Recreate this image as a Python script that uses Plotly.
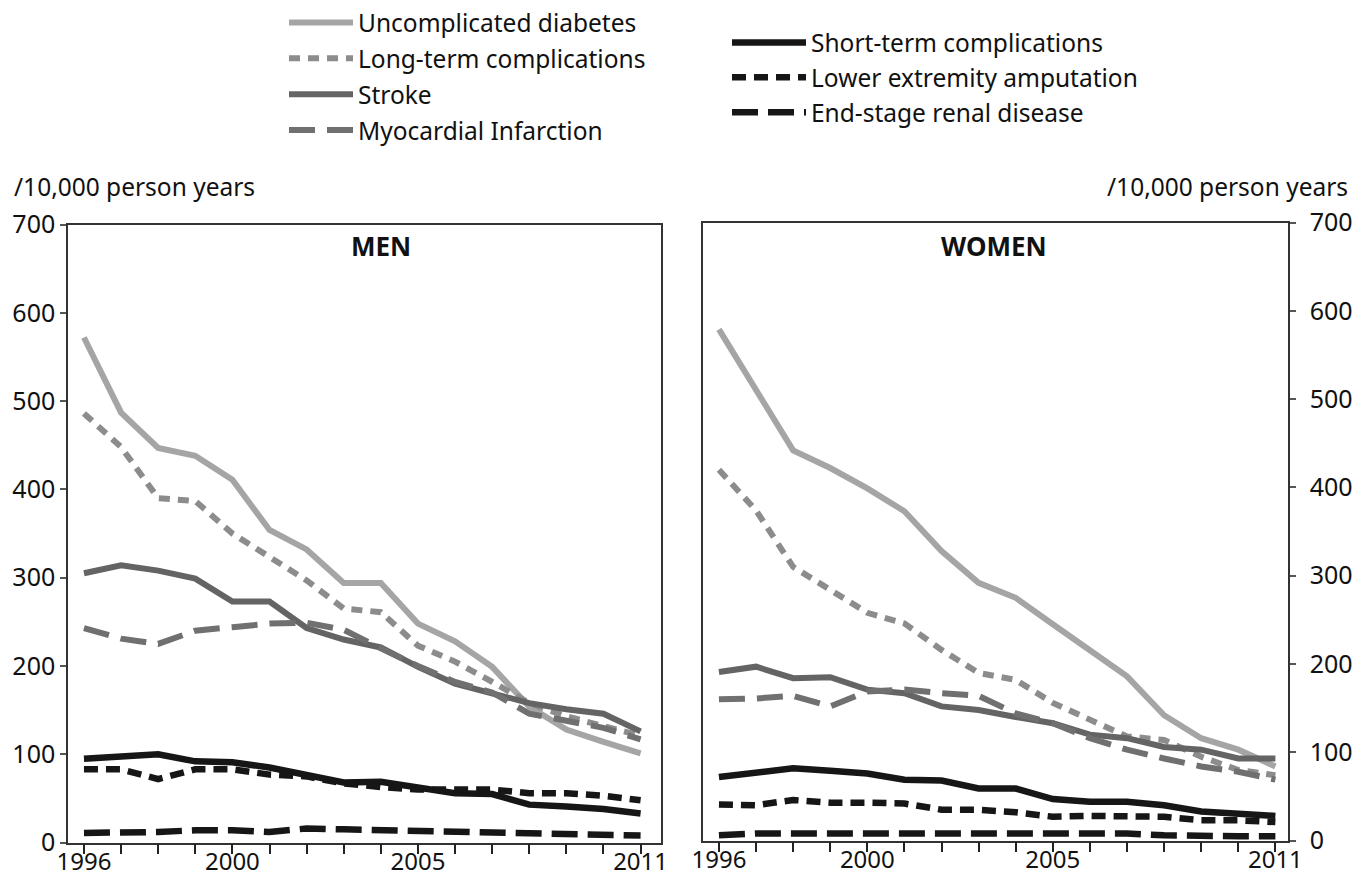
import plotly.graph_objects as go

# ---------------- data ----------------
years = list(range(1996, 2012))
x_tick_labels = ["1996", "", "", "", "2000", "", "", "", "", "2005", "", "", "", "", "", "2011"]
y_tick_values = [0, 100, 200, 300, 400, 500, 600, 700]

series_names = [
    "Uncomplicated diabetes",
    "Long-term complications",
    "Stroke",
    "Myocardial Infarction",
    "Short-term complications",
    "Lower extremity amputation",
    "End-stage renal disease",
]

men_uncomplicated = [572, 487, 447, 438, 411, 354, 332, 294, 294, 248, 228, 199, 154, 128, 114, 101]
men_longterm      = [486, 448, 390, 387, 350, 324, 297, 265, 261, 223, 205, 182, 158, 143, 132, 121]
men_stroke        = [305, 314, 308, 299, 273, 273, 243, 230, 221, 199, 180, 169, 158, 151, 146, 126]
men_mi            = [243, 231, 225, 240, 244, 248, 249, 241, 220, 200, 182, 170, 146, 138, 130, 117]
men_shortterm     = [95, 97, 100, 92, 91, 85, 77, 68, 69, 63, 56, 55, 43, 41, 38, 33]
men_amputation    = [83, 83, 72, 83, 83, 77, 75, 67, 63, 60, 60, 60, 56, 56, 53, 48]
men_esrd          = [11, 11, 12, 14, 14, 12, 16, 15, 14, 14, 12, 12, 10, 9, 8, 8]

women_uncomplicated = [579, 511, 442, 422, 399, 373, 328, 292, 275, 245, 216, 186, 142, 116, 103, 84]
women_longterm      = [420, 374, 310, 283, 258, 246, 216, 190, 182, 156, 137, 118, 114, 95, 80, 74]
women_stroke        = [191, 197, 184, 185, 171, 167, 152, 148, 140, 133, 120, 116, 106, 103, 93, 93]
women_mi            = [160, 161, 164, 152, 169, 171, 167, 164, 144, 133, 116, 103, 93, 84, 78, 69]
women_shortterm     = [72, 77, 82, 79, 76, 69, 68, 59, 59, 47, 44, 44, 40, 33, 31, 28]
women_amputation    = [41, 40, 46, 43, 43, 42, 35, 35, 32, 27, 28, 28, 27, 23, 23, 21]
women_esrd          = [6, 8, 8, 8, 8, 8, 8, 8, 8, 8, 8, 8, 6, 5, 5, 5]

men_series = [men_uncomplicated, men_longterm, men_stroke, men_mi,
              men_shortterm, men_amputation, men_esrd]
women_series = [women_uncomplicated, women_longterm, women_stroke, women_mi,
                women_shortterm, women_amputation, women_esrd]

# ---------------- styles ----------------
styles = [
    dict(color="#a5a5a5", width=6, dash="solid"),
    dict(color="#8c8c8c", width=6, dash="11px,8px"),
    dict(color="#646464", width=6, dash="solid"),
    dict(color="#707070", width=6, dash="26px,12px"),
    dict(color="#161616", width=6.5, dash="solid"),
    dict(color="#161616", width=6.5, dash="14px,8px"),
    dict(color="#161616", width=6.5, dash="26px,10px"),
]
legend_ids = ["legend", "legend", "legend", "legend", "legend2", "legend2", "legend2"]

W, H = 1355, 879


def px(x):
    return x / W


def py(y):
    return 1 - y / H


FONT = "Noto Sans"
fig = go.Figure()

for i, name in enumerate(series_names):
    fig.add_trace(go.Scatter(
        x=years, y=men_series[i], name=name, mode="lines",
        line=styles[i], xaxis="x", yaxis="y",
        legend=legend_ids[i], legendgroup="g%d" % i,
        showlegend=True, hoverinfo="skip",
    ))
for i, name in enumerate(series_names):
    fig.add_trace(go.Scatter(
        x=years, y=women_series[i], name=name, mode="lines",
        line=styles[i], xaxis="x2", yaxis="y2", legendgroup="g%d" % i,
        showlegend=False, hoverinfo="skip",
    ))

axis_line = dict(showline=True, linecolor="#333", linewidth=1.5, showgrid=False,
                 zeroline=False, automargin=False)

xcommon = dict(
    tickmode="array", tickvals=years, ticktext=x_tick_labels,
    ticks="outside", ticklen=10, tickwidth=1.5, tickcolor="#222",
    tickfont=dict(family=FONT, size=24, color="#111"), ticklabelstandoff=-13,
    mirror=True, **axis_line,
)
ycommon = dict(
    tickmode="array", tickvals=y_tick_values, ticktext=[str(v) for v in y_tick_values],
    ticks="outside", ticklen=6, tickwidth=1.5, tickcolor="#555",
    tickfont=dict(family=FONT, size=25, color="#111"),
    mirror=True, range=[0, 700], **axis_line,
)
yinner = dict(
    tickmode="array", tickvals=y_tick_values, showticklabels=False,
    ticks="inside", ticklen=6, tickwidth=1.5, tickcolor="#555",
    showline=False, showgrid=False, zeroline=False, range=[0, 700], automargin=False,
)

legend_font = dict(family=FONT, size=24.5, color="#111")

fig.update_layout(
    width=W, height=H,
    margin=dict(l=0, r=0, t=0, b=0, pad=0, autoexpand=False),
    paper_bgcolor="white", plot_bgcolor="white",
    font=dict(family=FONT, color="#111"),
    xaxis=dict(domain=[px(68), px(661)], range=[1995.57, 2011.55], anchor="y", **xcommon),
    yaxis=dict(domain=[py(842.6), py(224.5)], anchor="x", side="left", **ycommon),
    xaxis2=dict(domain=[px(703), px(1288)], range=[1995.57, 2011.34], anchor="y2", **xcommon),
    yaxis2=dict(domain=[py(840.6), py(222.6)], anchor="x2", side="right",
                ticklabelstandoff=9, **ycommon),
    yaxis3=dict(overlaying="y", anchor="x", side="left", **yinner),
    yaxis4=dict(overlaying="y2", anchor="x2", side="right", **yinner),
    legend=dict(
        x=px(284), y=py(0), xanchor="left", yanchor="top",
        font=legend_font, bgcolor="rgba(0,0,0,0)", tracegroupgap=1, itemwidth=64,
    ),
    legend2=dict(
        x=px(727), y=py(20), xanchor="left", yanchor="top",
        font=legend_font, bgcolor="rgba(0,0,0,0)", tracegroupgap=0, itemwidth=74,
    ),
    annotations=[
        dict(text="<b>MEN</b>", x=px(381), y=py(246), xref="paper", yref="paper",
             showarrow=False, xanchor="center", yanchor="middle",
             font=dict(family=FONT, size=26, color="#111")),
        dict(text="<b>WOMEN</b>", x=px(994), y=py(246), xref="paper", yref="paper",
             showarrow=False, xanchor="center", yanchor="middle",
             font=dict(family=FONT, size=26, color="#111")),
        dict(text="/10,000 person years", x=px(12), y=py(187), xref="paper", yref="paper",
             showarrow=False, xanchor="left", yanchor="middle",
             font=legend_font),
        dict(text="/10,000 person years", x=px(1350), y=py(187), xref="paper", yref="paper",
             showarrow=False, xanchor="right", yanchor="middle",
             font=legend_font),
    ],
)

# remove the browser's default 8px body margin so the figure fills the window exactly
fig.write_html("out.html", config={"displayModeBar": False},
               post_script="document.body.style.margin='0px';")
